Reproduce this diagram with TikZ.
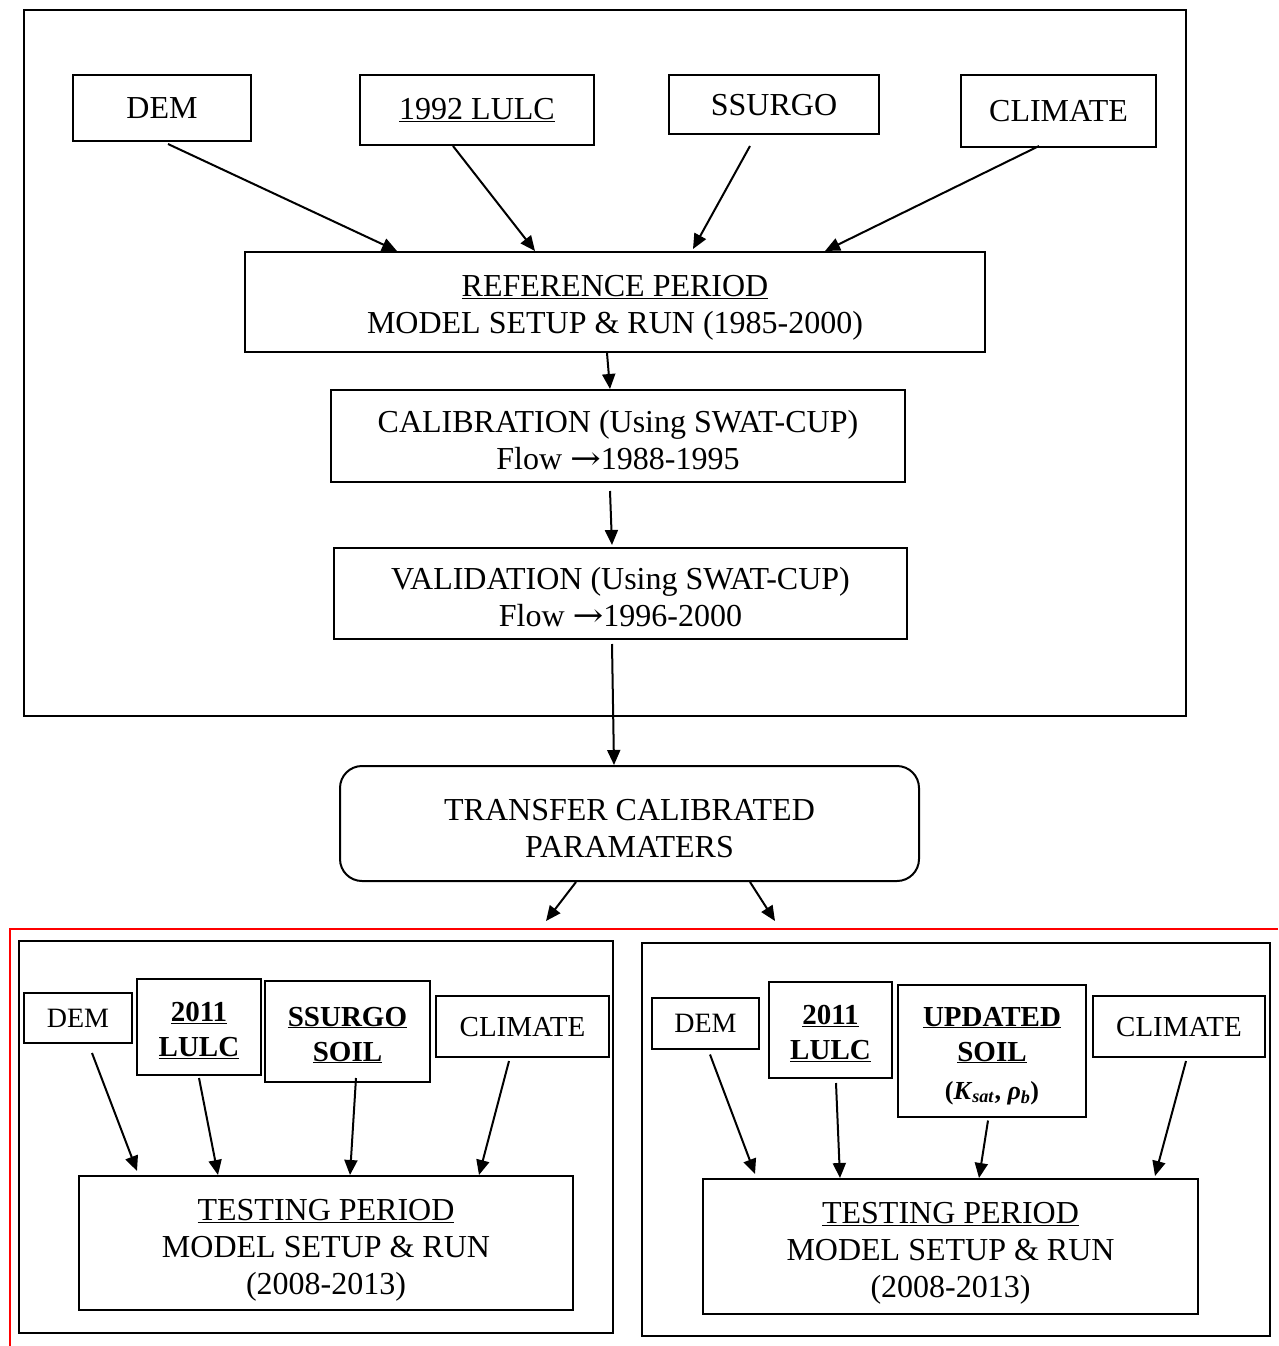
\documentclass[tikz,border=0pt]{standalone}
\usepackage{fontspec}
\setmainfont{Liberation Serif}
\newfontfamily\arrfont{DejaVu Serif}
\newcommand\flowarr{{\arrfont\scalebox{1.15}[1]{→}}}
\newcommand\up[1]{\rule{0pt}{#1}}
\usetikzlibrary{arrows.meta}
\begin{document}
\begin{tikzpicture}[x=1pt,y=-1pt,
  box/.style={draw, line width=2pt, inner sep=0pt, align=center, font=\fontsize{32}{37}\selectfont},
  sbox/.style={draw, line width=2pt, inner sep=0pt, align=center, font=\fontsize{29}{35}\selectfont},
  frame/.style={draw, line width=2pt, inner sep=0pt},
  arr/.style={line width=2pt, -{Triangle[length=15pt,width=13pt]}}]
\useasboundingbox (0,0) rectangle (1278,1346);
% top frame
\node[frame, minimum width=1162pt, minimum height=706pt] (topframe) at (605,363) {};
\node[box, minimum width=178pt, minimum height=66pt, text depth=-2pt] (dem) at (162,108) {DEM};
\node[box, minimum width=234pt, minimum height=70pt] (lulc) at (477,110) {\underline{1992 LULC}};
\node[box, minimum width=210pt, minimum height=59pt, text depth=-2pt] (ssurgo) at (774,104.5) {SSURGO};
\node[box, minimum width=195pt, minimum height=72pt, text depth=-2pt] (climate) at (1058.5,111) {CLIMATE};
\node[box, minimum width=740pt, minimum height=100pt, text depth=-5pt] (ref) at (615,302) {\up{26pt}\underline{REFERENCE PERIOD}\\MODEL SETUP \& RUN (1985-2000)};
\node[box, minimum width=574pt, minimum height=92pt] (calib) at (618,436) {\up{30pt}CALIBRATION (Using SWAT-CUP)\\Flow \flowarr1988-1995};
\node[box, minimum width=573pt, minimum height=91pt] (valid) at (620.5,593.5) {\up{29pt}VALIDATION (Using SWAT-CUP)\\Flow \flowarr1996-2000};
\node[box, rounded corners=22pt, minimum width=579pt, minimum height=115pt] (transfer) at (629.5,823.5) {\up{32pt}TRANSFER CALIBRATED\\PARAMATERS};
\coordinate (tl) at (546,921);
\coordinate (tr) at (775,921);

\draw[arr] ([xshift=6pt,yshift=-2pt]dem.south) -- ([xshift=-218pt]ref.north);
\draw[arr] ([xshift=-24pt]lulc.south) -- ([xshift=-80pt]ref.north);
\draw[arr] ([xshift=-24pt,yshift=-11pt]ssurgo.south) -- ([xshift=78pt,yshift=2pt]ref.north);
\draw[arr] ([xshift=-19.5pt,yshift=2pt]climate.south) -- ([xshift=210pt]ref.north);
\draw[arr] ([xshift=-8pt]ref.south) -- ([xshift=-8pt]calib.north);
\draw[arr] ([xshift=-8pt,yshift=-8pt]calib.south) -- ([xshift=-8.5pt,yshift=2pt]valid.north);
\draw[arr] ([xshift=-8.5pt,yshift=-4pt]valid.south) -- ([xshift=-15.5pt]transfer.north);
\draw[arr] ([xshift=-53.5pt]transfer.south) -- (tl);
\draw[arr] ([xshift=120.5pt]transfer.south) -- (tr);

% red line
\draw[red, line width=2.5pt] (10,1346) -- (10,929) -- (1278,929);

% bottom left
\node[frame, minimum width=594pt, minimum height=392pt] (leftframe) at (316,1137) {};
\node[sbox, minimum width=108pt, minimum height=50pt, font=\fontsize{28}{34}\selectfont, text depth=-2pt] (demL) at (78,1018) {DEM};
\node[sbox, minimum width=124pt, minimum height=96pt, font=\fontsize{29}{35}\selectfont\bfseries, text depth=-2pt] (lulcL) at (199,1027) {\up{24pt}\underline{2011}\\\underline{LULC}};
\node[sbox, minimum width=165pt, minimum height=101pt, font=\fontsize{29}{35}\selectfont\bfseries, text depth=-2pt] (ssurgoL) at (347.5,1031.5) {\up{24pt}\underline{SSURGO}\\\underline{SOIL}};
\node[sbox, minimum width=173pt, minimum height=61pt, text depth=-2pt] (climL) at (522.5,1026.5) {CLIMATE};
\node[box, minimum width=494pt, minimum height=134pt, text depth=-5pt] (testL) at (326,1243) {\up{28pt}\underline{TESTING PERIOD}\\MODEL SETUP \& RUN\\(2008-2013)};
\draw[arr] ([xshift=14pt,yshift=-9pt]demL.south) -- ([xshift=-189pt,yshift=4pt]testL.north);
\draw[arr] ([yshift=-2pt]lulcL.south) -- ([xshift=-108pt]testL.north);
\draw[arr] ([xshift=8.5pt,yshift=5pt]ssurgoL.south) -- ([xshift=24pt]testL.north);
\draw[arr] ([xshift=-13.5pt,yshift=-3pt]climL.south) -- ([xshift=153pt]testL.north);

% bottom right
\node[frame, minimum width=628pt, minimum height=393pt] (rightframe) at (956,1139.5) {};
\node[sbox, minimum width=107pt, minimum height=51pt, font=\fontsize{28}{34}\selectfont, text depth=-2pt] (demR) at (705.5,1023) {DEM};
\node[sbox, minimum width=123pt, minimum height=96pt, font=\fontsize{29}{35}\selectfont\bfseries, text depth=-2pt] (lulcR) at (830.5,1030) {\up{24pt}\underline{2011}\\\underline{LULC}};
\node[sbox, minimum width=188pt, minimum height=132pt, font=\fontsize{29}{35}\selectfont\bfseries, text depth=-3pt] (updR) at (992,1050.5) {\up{24pt}\underline{UPDATED}\\\underline{SOIL}\\[3pt]{\fontsize{26}{30}\selectfont(\textit{K}\textsubscript{\textit{sat}}, \textit{ρ}\textsubscript{\textit{b}})}};
\node[sbox, minimum width=172pt, minimum height=61pt, text depth=-2pt] (climR) at (1179,1026.5) {CLIMATE};
\node[box, minimum width=495pt, minimum height=135pt, text depth=-5pt] (testR) at (950.5,1246.5) {\up{28pt}\underline{TESTING PERIOD}\\MODEL SETUP \& RUN\\(2008-2013)};
\draw[arr] ([xshift=4.5pt,yshift=-5pt]demR.south) -- ([xshift=-195.5pt,yshift=4pt]testR.north);
\draw[arr] ([xshift=5.5pt,yshift=-4pt]lulcR.south) -- ([xshift=-110.5pt]testR.north);
\draw[arr] ([xshift=-4pt,yshift=-3pt]updR.south) -- ([xshift=28.5pt]testR.north);
\draw[arr] ([xshift=7pt,yshift=-3pt]climR.south) -- ([xshift=204.5pt,yshift=2pt]testR.north);
\end{tikzpicture}
\end{document}
